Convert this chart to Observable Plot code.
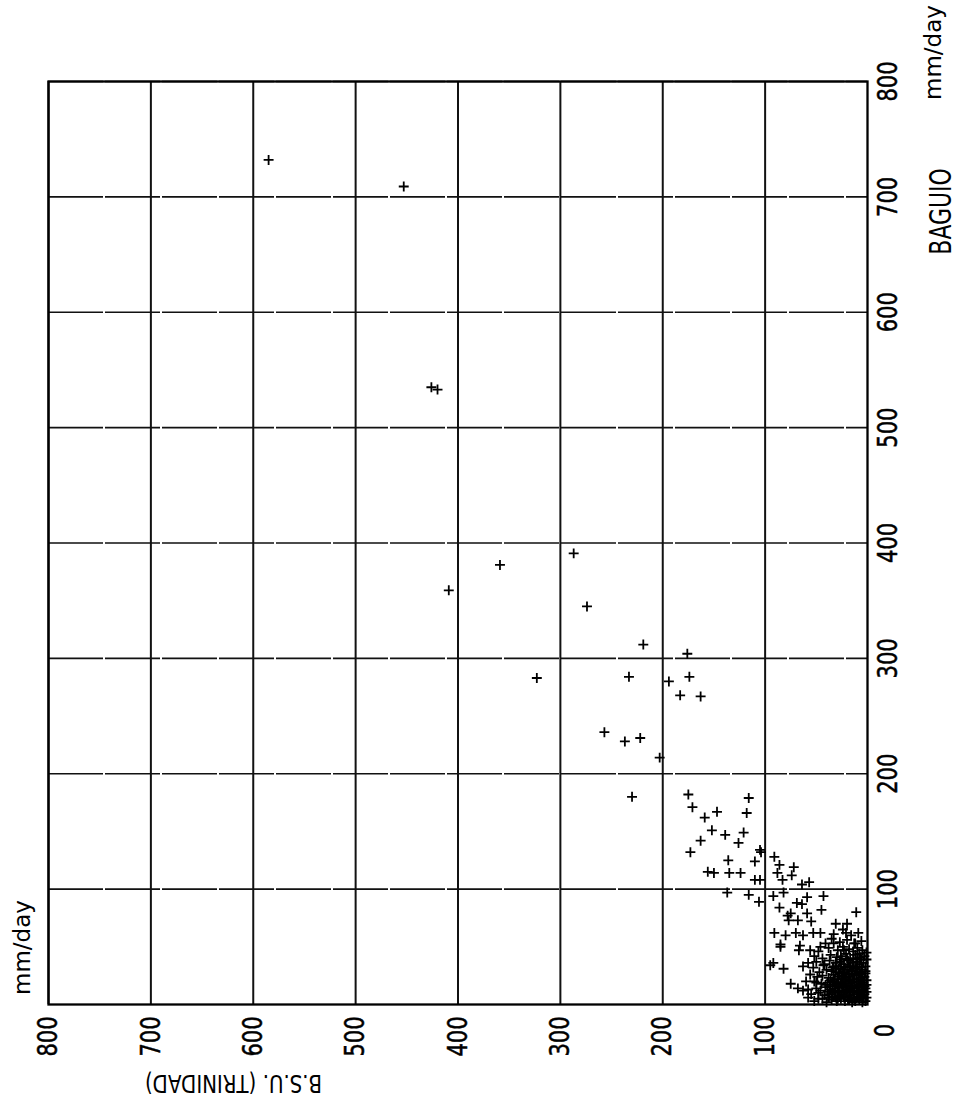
<!DOCTYPE html>
<html><head><meta charset="utf-8">
<script src="https://cdn.jsdelivr.net/npm/d3@7"></script>
<script src="https://cdn.jsdelivr.net/npm/@observablehq/plot@0.6"></script>
<style>body{margin:0;background:#fff}</style>
</head><body><div id="chart"></div>
<script>
// Axis ticks
const bsuTicks = [100, 200, 300, 400, 500, 600, 700, 800];     // B.S.U. (TRINIDAD), mm/day
const baguioTicks = [100, 200, 300, 400, 500, 600, 700, 800];  // BAGUIO, mm/day
const originTick = [0];

// [B.S.U. (Trinidad), Baguio] daily rainfall pairs, mm/day
const highPoints = [
  [585,732],[453,709],[426,535],[420,533],[409,359],[359,381],[287,391],[274,345],
  [219,312],[176,304],[323,283],[233,284],[194,280],[174,284],[183,268],[163,267],
  [257,236],[237,228],[222,231],[203,214],[230,180],[175,182],[116,179],[171,171],
  [159,162],[147,167],[118,166],[152,151],[139,147],[121,149],[163,142],[126,140],
  [173,132],[136,125],[110,124],[104,132],[156,115],[150,114],[135,114],[124,114]
];
const midPoints = [
  [105,134],[91,128],[86,121],[72,119],[88,114],[83,108],[74,112],[110,108],[105,108],
  [64,104],[57,106],[137,97],[116,95],[106,89],[92,94],[82,97],[59,93],[43,94],[64,87],
  [69,88],[86,84],[78,77],[45,82],[11,80],[75,79],[77,73],[68,73],[59,79],[55,72],[31,70],
  [20,70],[91,62],[80,60],[70,62],[63,60],[53,62],[46,62],[21,62],[85,50],[67,47],[56,47],
  [46,50],[33,53],[23,47],[12,53],[95,34],[92,36],[82,31],[63,33],[53,32],[43,34],[33,33],
  [26,31],[17,33],[10,32],[75,18],[68,14],[63,12],[60,20],[50,19],[41,17],[33,19],[23,18],
  [13,20],[8,17],[58,6],[48,5],[38,6],[29,5],[18,4],[10,6],[85,52],[66,51]
];
const clusterPoints = [
  [2,3],[5,2],[8,4],[12,3],[15,2],[19,4],[22,3],[26,5],[30,3],[35,4],[40,2],[44,5],[52,3],
  [3,9],[6,8],[9,10],[14,9],[17,8],[21,10],[25,9],[28,8],[32,10],[37,9],[42,8],[48,10],[55,9],
  [2,14],[5,13],[10,15],[13,12],[16,14],[20,13],[24,15],[27,12],[31,14],[36,13],[41,15],[46,12],[50,14],[58,13],
  [4,19],[7,18],[11,20],[15,19],[19,18],[22,20],[26,19],[30,18],[34,20],[39,19],[45,18],[52,20],
  [3,24],[6,23],[9,25],[13,26],[18,24],[21,23],[25,25],[29,24],[33,26],[38,23],[44,25],[49,24],[56,26],
  [2,29],[5,30],[8,28],[12,31],[16,29],[20,30],[24,28],[28,31],[35,29],[40,30],[47,28],
  [4,36],[8,35],[11,37],[15,36],[19,38],[23,35],[27,37],[31,36],[37,38],[42,35],[50,37],[58,36],
  [3,42],[7,41],[12,43],[17,40],[21,44],[26,42],[30,41],[36,43],[44,40],[52,42],
  [5,47],[10,49],[14,46],[18,48],[24,50],[29,47],[38,49],[48,46],
  [6,55],[13,53],[20,56],[27,54],[35,57],[41,53],
  [9,62],[16,60],[24,65],[33,61]
];
const denseCorePoints = [
  [1,6],[4,5],[7,7],[10,6],[13,5],[17,6],[20,7],[23,6],[27,7],[31,6],[34,7],[38,6],
  [1,11],[4,11],[8,12],[11,11],[15,11],[18,12],[23,11],[29,11],[34,12],[39,11],
  [1,17],[3,16],[9,17],[13,16],[17,16],[21,16],[25,17],[28,16],[32,17],[37,16],
  [1,21],[5,21],[9,22],[14,22],[17,21],[24,22],[28,22],[32,22],[36,21],
  [2,27],[7,26],[11,27],[15,27],[19,26],[23,27],[27,27],[31,28],
  [2,33],[6,32],[10,33],[14,33],[18,33],[22,32],[26,33],[30,33],[34,32],
  [1,39],[6,39],[10,40],[14,39],[20,40],[25,39],[1,45],[8,44]
];

const points = [...highPoints, ...midPoints, ...clusterPoints, ...denseCorePoints]
  .map(([bsu, baguio]) => ({bsu, baguio}));

const font = "'DejaVu Sans', sans-serif";
const centered = {textAnchor: "middle", lineAnchor: "middle", fill: "#000"};

const chart = Plot.plot({
  width: 961,
  height: 1111,
  marginLeft: 48,
  marginRight: 94,
  marginTop: 81,
  marginBottom: 107,
  x: {domain: [800, 0], axis: null},
  y: {domain: [0, 800], axis: null},
  style: {fontFamily: font, background: "white", color: "#000"},
  marks: [
    Plot.ruleX(bsuTicks, {stroke: "#111", strokeWidth: 2}),
    Plot.ruleY(baguioTicks, {stroke: "#111", strokeWidth: 1.7, strokeDasharray: "55,2"}),
    Plot.frame({stroke: "#000", strokeWidth: 2.3}),
    Plot.dot(points, {x: "bsu", y: "baguio", symbol: "plus", r: 3.3, stroke: "#000", strokeWidth: 1.8}),
    // tick labels (rotated like the original)
    Plot.text(bsuTicks, {x: d => d, text: d => String(d), frameAnchor: "bottom", dy: 32, rotate: -90, fontSize: 27, stroke: "#000", strokeWidth: 0.5, ...centered}),
    Plot.text(baguioTicks, {y: d => d, text: d => String(d), frameAnchor: "right", dx: 21, rotate: -90, fontSize: 27, stroke: "#000", strokeWidth: 0.5, ...centered}),
    Plot.text(originTick, {x: d => d, text: d => String(d), frameAnchor: "bottom", dx: 18, dy: 26, rotate: -90, fontSize: 27, stroke: "#000", strokeWidth: 0.5, ...centered}),
    // axis titles and units
    Plot.text(["BAGUIO"], {text: d => d, frameAnchor: "top-right", dx: 74, dy: 130, rotate: -90, fontSize: 30, ...centered}),
    Plot.text(["mm/day"], {text: d => d, frameAnchor: "top-right", dx: 66, dy: -29, rotate: -90, fontSize: 23, ...centered}),
    Plot.text(["mm/day "], {text: d => d.trim(), frameAnchor: "bottom-left", dx: -26, dy: -57, rotate: -90, fontSize: 23, ...centered}),
    Plot.text(["B.S.U. (TRINIDAD)"], {text: d => d, frameAnchor: "bottom-left", dx: 185, dy: 79, rotate: 180, fontSize: 22, ...centered})
  ]
});

// narrow the plotter-style lettering
d3.select(chart).selectAll("text").each(function () {
  const t = this.textContent;
  let s = null;
  if (/^\d+$/.test(t)) s = "scale(0.78,1)";
  else if (t === "BAGUIO") s = "scale(0.73,1)";
  else if (t === "B.S.U. (TRINIDAD)") s = "scale(0.9,1.15)";
  if (!s) return;
  const tr = this.getAttribute("transform");
  this.setAttribute("transform", tr ? tr + " " + s : s);
});

document.getElementById("chart").appendChild(chart);
</script>
</body></html>
